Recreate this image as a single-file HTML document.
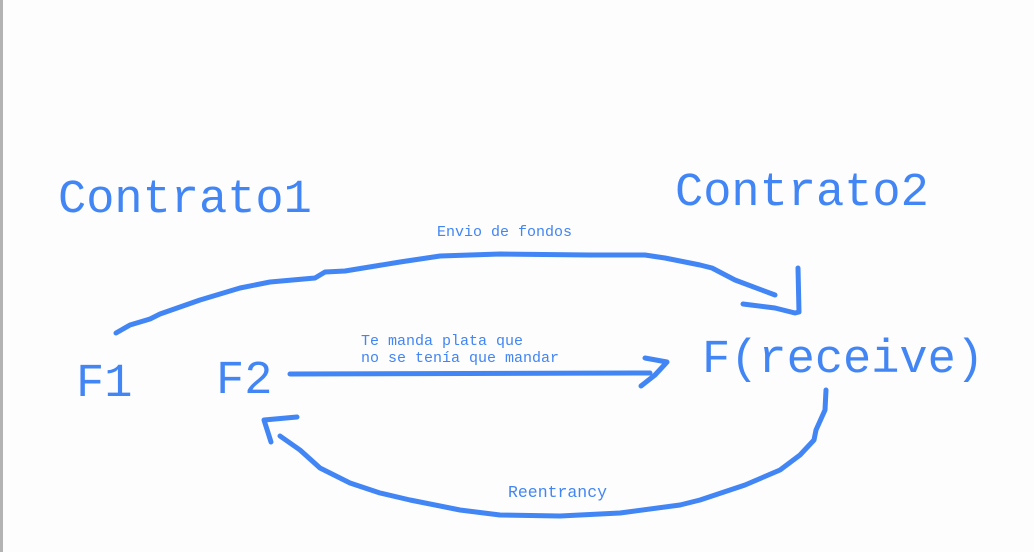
<!DOCTYPE html>
<html><head><meta charset="utf-8"><style>
html,body{margin:0;padding:0;width:1034px;height:552px;overflow:hidden;background:#fdfdfd;}
svg{position:absolute;left:0;top:0;}
text{font-family:"Liberation Mono",monospace;fill:#4285f4;}
</style></head><body>
<svg width="1034" height="552" viewBox="0 0 1034 552">
<rect x="0" y="0" width="3" height="552" fill="#b3b3b3"/>
<text x="58" y="212" font-size="47">Contrato1</text>
<text x="675" y="205" font-size="47">Contrato2</text>
<text x="76" y="396" font-size="47">F1</text>
<text x="216" y="393" font-size="47">F2</text>
<text x="702" y="372" font-size="47">F(receive)</text>
<text x="437" y="236" font-size="15">Envio de fondos</text>
<text x="361" y="345" font-size="15">Te manda plata que</text>
<text x="361" y="362" font-size="15">no se tenía que mandar</text>
<text x="508" y="497" font-size="16.5">Reentrancy</text>
<g fill="none" stroke="#4285f4" stroke-width="5" stroke-linecap="round" stroke-linejoin="round">
<polyline points="116,333 130,325 150,319 160,314 200,300 240,288 270,282 315,278 325,272 345,271 400,262 440,256 500,254 590,255 645,255 665,258 700,265 712,268 735,280 775,295"/>
<polyline points="743,304 775,308 795,313 799,312 798,268"/>
<polyline points="290,374 650,373"/>
<polyline points="645,358 667,362 655,375 641,386"/>
<polyline points="826,390 825,410 816,430 814,440 800,455 780,470 745,485 700,500 680,505 620,513 560,516 500,515 460,510 410,500 380,493 350,483 320,468 300,450 280,436"/>
<polyline points="297,417 264,420 271,442"/>
</g>
</svg>
</body></html>
